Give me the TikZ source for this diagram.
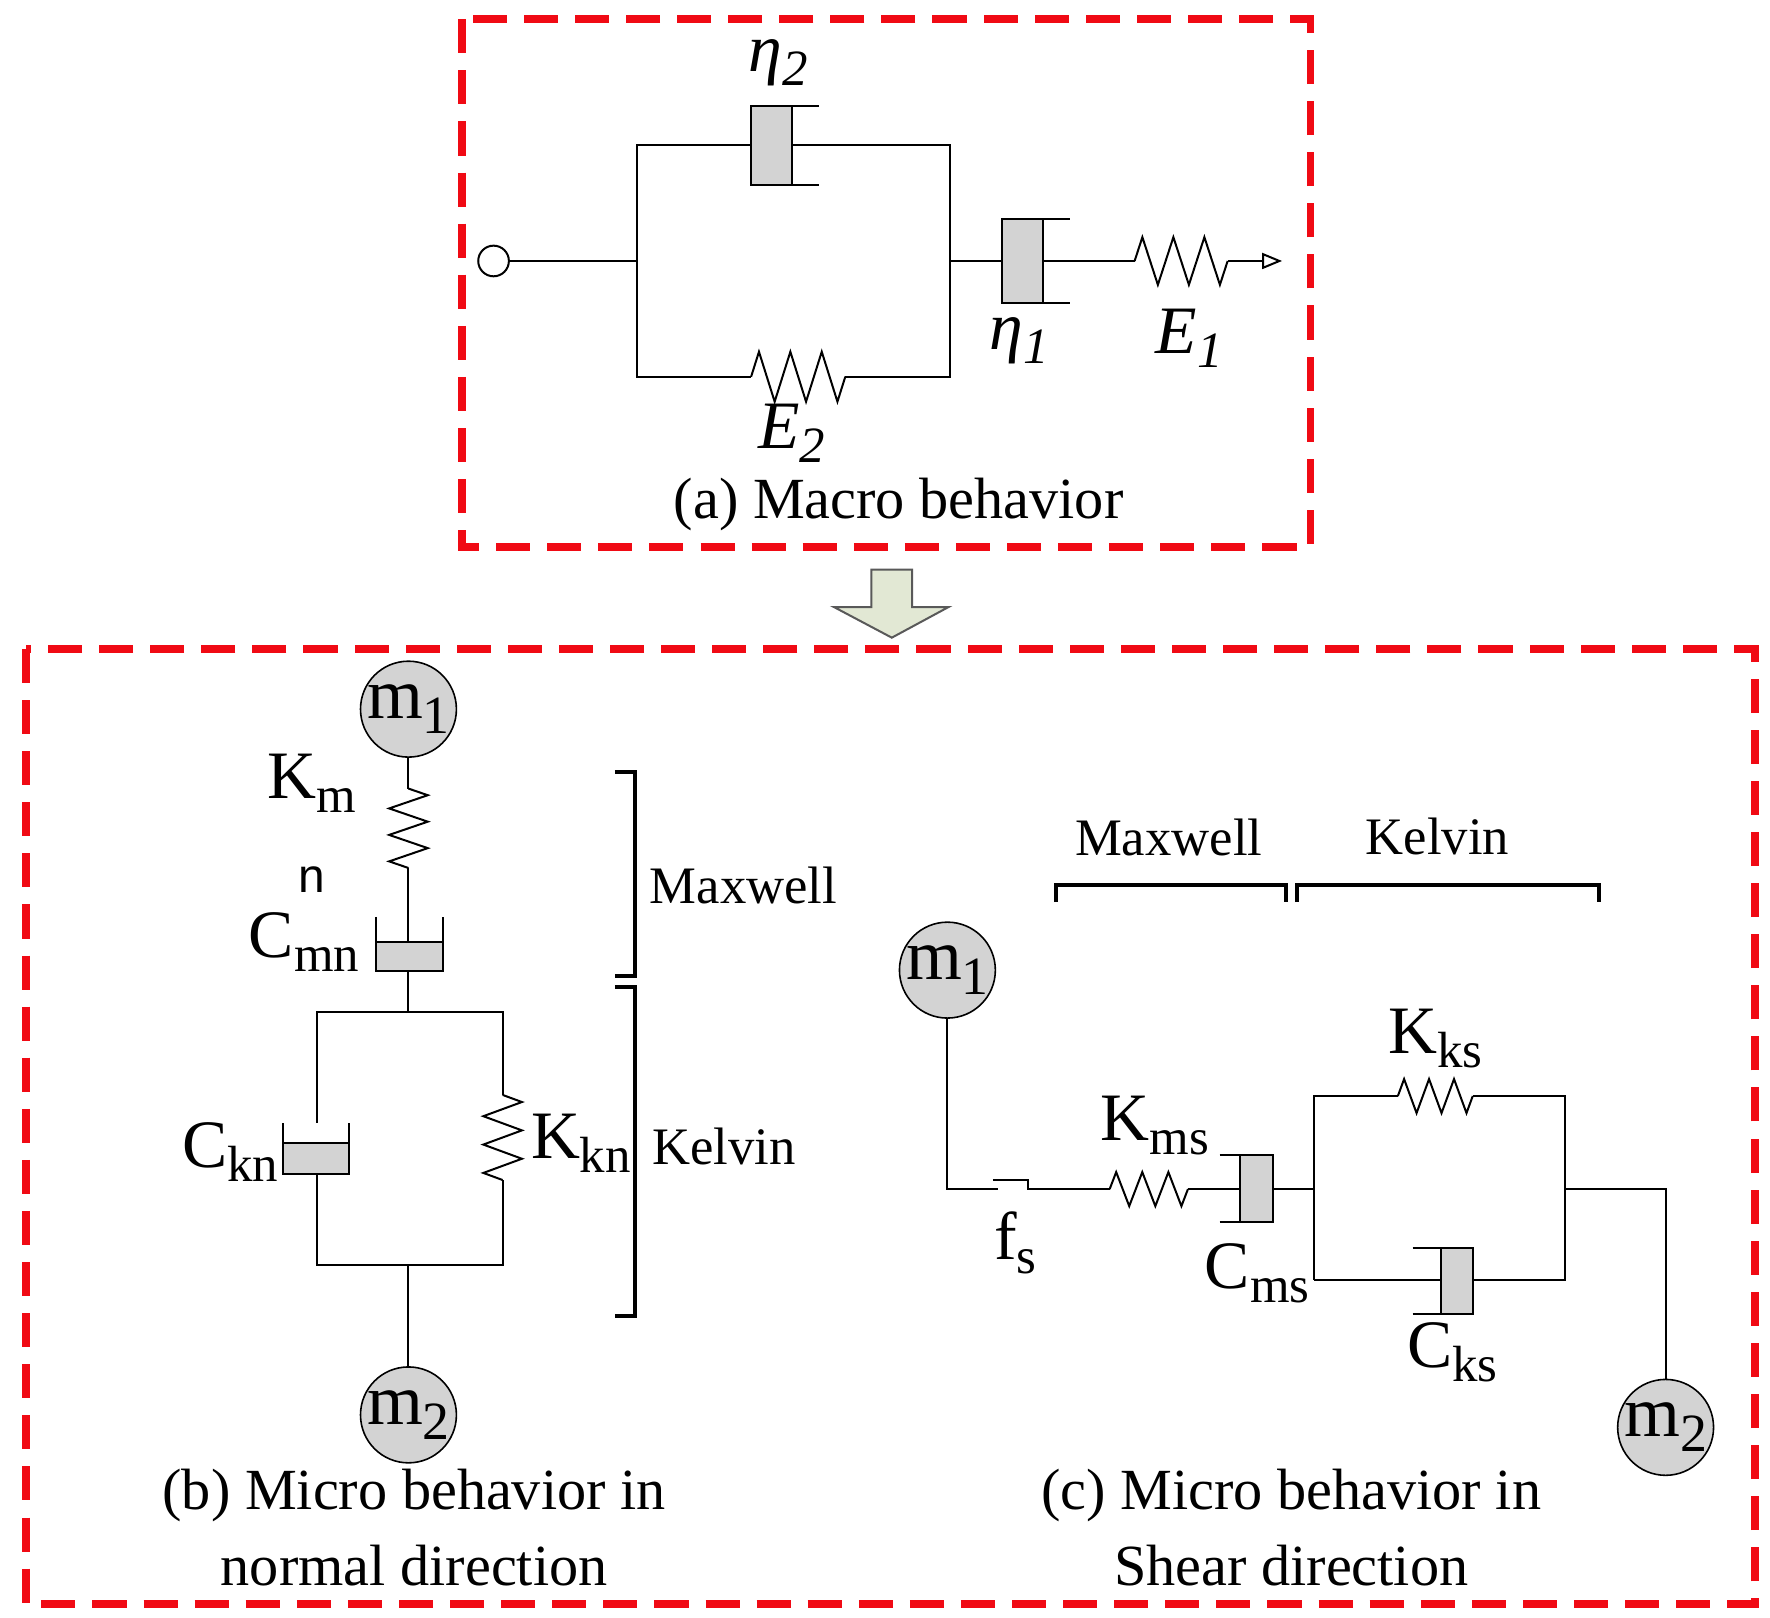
\documentclass[tikz,border=0pt]{standalone}
\usetikzlibrary{arrows.meta}
\usepackage{fontspec}
\setmainfont{Liberation Serif}
\newfontfamily\sansf{Liberation Sans}
\definecolor{boxred}{RGB}{240,10,20}
\definecolor{pist}{RGB}{211,211,211}
\definecolor{arrfill}{RGB}{226,232,212}
\newcommand\lo[1]{\raisebox{-0.45ex}{\scalebox{0.75}{#1}}}
\newcommand\hspr[4]{\draw[thn] (#1,#3) -- ++({(#2-#1)/12},#4) -- ++({(#2-#1)/6},{-2*#4}) -- ++({(#2-#1)/6},{2*#4}) -- ++({(#2-#1)/6},{-2*#4}) -- ++({(#2-#1)/6},{2*#4}) -- ++({(#2-#1)/6},{-2*#4}) -- ++({(#2-#1)/12},#4);}
\newcommand\vspr[4]{\draw[thn] (#3,#1) -- ++(#4,{(#2-#1)/12}) -- ++({-2*#4},{(#2-#1)/6}) -- ++({2*#4},{(#2-#1)/6}) -- ++({-2*#4},{(#2-#1)/6}) -- ++({2*#4},{(#2-#1)/6}) -- ++({-2*#4},{(#2-#1)/6}) -- ++(#4,{(#2-#1)/12});}
\begin{document}
\begin{tikzpicture}[x=0.01cm,y=-0.01cm,
  thn/.style={line width=0.5pt},
  frame/.style={draw=boxred,line width=2pt,dash pattern=on 0.3cm off 0.15cm},
  mass/.style={circle,draw,fill=pist,minimum size=0.84cm,inner sep=0pt,font=\fontsize{18}{18}\selectfont},
  piston/.style={draw,fill=pist,thn},
  lab/.style={font=\fontsize{17}{20}\selectfont,inner sep=0pt},
  capt/.style={font=\fontsize{14.6}{17}\selectfont,inner sep=0pt},
  mid/.style={font=\fontsize{13.2}{16}\selectfont,inner sep=0pt}]
\useasboundingbox (0,0) rectangle (1560,1426);
% frames
\draw[frame] (407,17) rectangle (1155,482);
\draw[frame] (23,572) rectangle (1547,1414);
% block arrow
\draw[fill=arrfill,draw=gray!70!black,thn] (768,502) -- (804,502) -- (804,535) -- (836,535) -- (786,562) -- (735,535) -- (768,535) -- cycle;
% ---- (a)
\node[circle,draw,thn,minimum size=0.27cm,inner sep=0pt] (c0) at (435,230) {};
\draw[thn] (c0) -- (561,230);
\draw[thn] (561,128) rectangle (837,332);
\draw[piston] (662,93) rectangle (698,163);
\draw[thn] (698,93) -- (722,93) (698,163) -- (722,163);
\draw[draw=white,line width=2pt] (662,332) -- (745,332);
\hspr{662}{745}{332}{-22}
\draw[thn] (837,230) -- (883,230);
\draw[piston] (883,193) rectangle (919,267);
\draw[thn] (919,193) -- (943,193) (919,267) -- (943,267);
\draw[thn] (919,230) -- (1000,230);
\hspr{1000}{1082}{230}{-21}
\coordinate (tipA) at (1130,230);
\draw[thn,-{Triangle[open,length=5pt,width=4pt]}] (1082,230) -- (tipA);
\node[lab] (eta2) at (686,55) {\itshape η\lo{2}};
\node[lab] (E2) at (698,382) {\itshape E\lo{2}};
\node[lab] (eta1) at (898,300) {\itshape η\lo{1}};
\node[lab] (E1) at (1048,298) {\itshape E\lo{1}};
\node[capt] (capa) at (792,445) {(a) Macro behavior};
% ---- (b)
\node[mass] (bm1) at (360,625) {m\lo{1}};
\node[mass] (bm2) at (360,1247) {m\lo{2}};
\draw[thn] (bm1) -- (360,695);
\vspr{695}{765}{360}{17}
\draw[thn] (360,765) -- (360,830);
\fill[pist] (331,830) rectangle (390,856);
\draw[thn] (331,808) -- (331,856) -- (390,856) -- (390,808) (331,830) -- (390,830);
\draw[thn] (360,856) -- (360,892);
\draw[thn] (279,892) rectangle (443,1115);
\draw[white,line width=2pt] (443,965) -- (443,1040);
\vspr{965}{1040}{443}{17}
\draw[white,line width=2pt] (279,990) -- (279,1035);
\fill[pist] (249,1007) rectangle (308,1035);
\draw[thn] (249,990) -- (249,1035) -- (308,1035) -- (308,990) (249,1007) -- (308,1007);
\draw[thn] (bm2) -- (360,1115);
\node[lab] (Km) at (275,690) {K\lo{m}};
\node[font=\sansf\fontsize{12}{12}\selectfont] (nn) at (275,775) {n};
\node[lab] (Cmn) at (268,830) {C\lo{mn}};
\node[lab] (Ckn) at (203,1015) {C\lo{kn}};
\node[lab] (Kkn) at (512,1008) {K\lo{kn}};
\draw[line width=1pt] (542,680) -- (560,680) -- (560,860) -- (542,860);
\draw[line width=1pt] (542,870) -- (560,870) -- (560,1160) -- (542,1160);
\node[mid,anchor=west] (mxb) at (572,780) {Maxwell};
\node[mid,anchor=west] (kvb) at (574,1010) {Kelvin};
\node[capt] (capb1) at (365,1318) {(b) Micro behavior in};
\node[capt] (capb2) at (365,1380) {normal direction};
% ---- (c)
\node[mass] (cm1) at (835,855) {m\lo{1}};
\node[mass] (cm2) at (1468,1258) {m\lo{2}};
\draw[thn] (cm1) -- (835,1048) -- (880,1048);
\draw[thn] (875,1040) -- (906,1040) -- (906,1048) -- (978,1048);
\hspr{978}{1047}{1048}{-15}
\draw[thn] (1047,1048) -- (1093,1048);
\draw[piston] (1093,1018) rectangle (1122,1077);
\draw[thn] (1075,1018) -- (1093,1018) (1075,1077) -- (1093,1077);
\draw[thn] (1122,1048) -- (1158,1048);
\draw[thn] (1158,1128) -- (1158,966) -- (1232,966);
\hspr{1232}{1298}{966}{-15}
\draw[thn] (1298,966) -- (1379,966) -- (1379,1128) -- (1298,1128);
\draw[thn] (1158,1128) -- (1270,1128);
\draw[piston] (1270,1100) rectangle (1298,1158);
\draw[thn] (1245,1100) -- (1270,1100) (1245,1158) -- (1270,1158);
\draw[thn] (1379,1048) -- (1468,1048) -- (cm2);
\node[lab] (fs) at (895,1095) {f\lo{s}};
\node[lab] (Kms) at (1018,992) {K\lo{ms}};
\node[lab] (Cms) at (1108,1122) {C\lo{ms}};
\node[lab] (Kks) at (1265,915) {K\lo{ks}};
\node[lab] (Cks) at (1280,1192) {C\lo{ks}};
\draw[line width=1pt] (931,795) -- (931,780) -- (1133,780) -- (1133,795);
\draw[line width=1pt] (1143,795) -- (1143,780) -- (1409,780) -- (1409,795);
\node[mid] (mxc) at (1030,738) {Maxwell};
\node[mid] (kvc) at (1267,737) {Kelvin};
\node[capt] (capc1) at (1138,1318) {(c) Micro behavior in};
\node[capt] (capc2) at (1138,1380) {Shear direction};
\end{tikzpicture}
\end{document}
